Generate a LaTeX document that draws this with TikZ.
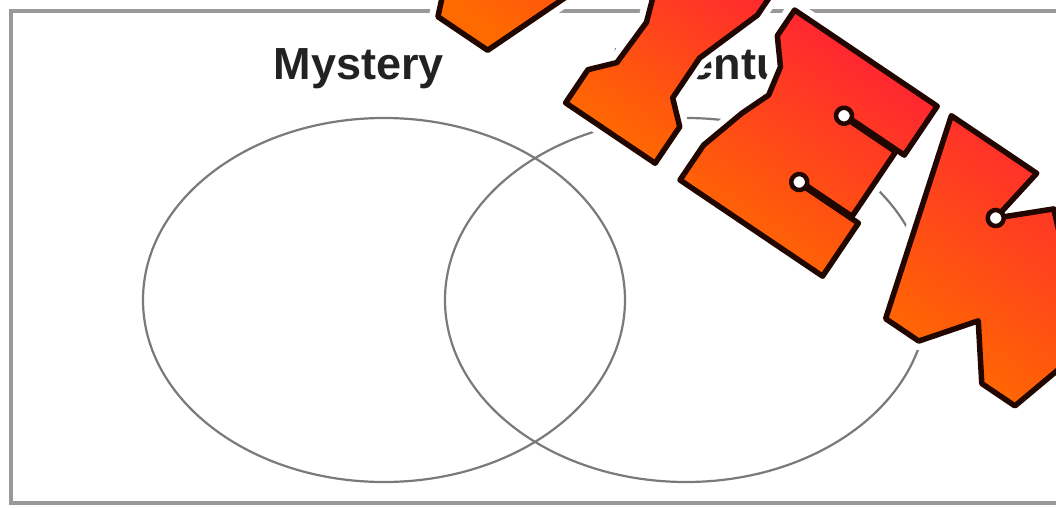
\documentclass[tikz,border=0pt]{standalone}
\usepackage{fontspec}
\setmainfont{Liberation Sans}
\definecolor{framegray}{HTML}{999999}
\definecolor{ellgray}{HTML}{7A7A7A}
\definecolor{labelink}{HTML}{222222}
\definecolor{wmred}{HTML}{FF1F36}
\definecolor{wmorange}{HTML}{FF6A00}
\definecolor{wmline}{HTML}{220600}
\tikzset{
  frameline/.style={draw=framegray, line width=4.5pt},
  venn/.style={draw=ellgray, line width=2.2pt},
  setlabel/.style={font=\bfseries\fontsize{45}{50}\selectfont, text=labelink, inner sep=0pt, anchor=base},
  letter/.style={preaction={draw=white, line width=18pt, line join=round},
    top color=wmred, bottom color=wmorange, shading angle=-34,
    draw=wmline, line width=5.5pt, line join=round},
  trap/.style={fill=white, draw=wmline, line width=4.5pt},
}
\begin{document}
\begin{tikzpicture}[x=1pt,y=1pt]
\useasboundingbox (0,0) rectangle (1056,507);
\clip (0,0) rectangle (1056,507);
\fill[white] (0,0) rectangle (1056,507);
\draw[frameline] (11,496) rectangle (1080,4);
\draw[venn] (384,207) ellipse [x radius=241, y radius=182];
\draw[venn] (686,207) ellipse [x radius=241, y radius=182];
\node[setlabel] (mystery) at (359,427) {Mystery};
\node[setlabel] (adventure) at (715,427) {Adventure};
\begin{scope}[shift={(680,327)}, rotate=-34]
  % V
  \path[letter] (-292,0) -- (-232,0) -- (-150,205) -- (-215,205) -- (-262,95) -- (-309,205) -- (-374,205) -- cycle;
  % I
  \path[letter] (-138,0) -- (-30,0) -- (-30,44) -- (-52,64) -- (-52,112) -- (-28,180) -- (-28,225) -- (-140,225) -- (-140,180) -- (-116,112) -- (-118,62) -- (-138,40) -- cycle;
  % E
  \path[letter] (0,0) -- (172,0) -- (172,64) -- (100,64) -- (100,66) -- (163,66) -- (163,144) -- (100,144) -- (100,146) -- (172,146) -- (172,205) -- (0,205) -- (0,174) -- (20,150) -- (26,120) -- (14,90) -- (0,42) -- cycle;
  \path[trap] (100,145) circle[radius=8];
  \path[trap] (100,65) circle[radius=8];
  % W
  \path[letter] (189,205) -- (248,0) -- (288,0) -- (326,50) -- (364,0) -- (404,0) -- (463,205) -- (360,205) -- (369,145) -- (326,185) -- (283,145) -- (292,205) -- cycle;
  \path[trap] (283,145) circle[radius=8];
  \path[trap] (369,145) circle[radius=8];
\end{scope}
\end{tikzpicture}
\end{document}
